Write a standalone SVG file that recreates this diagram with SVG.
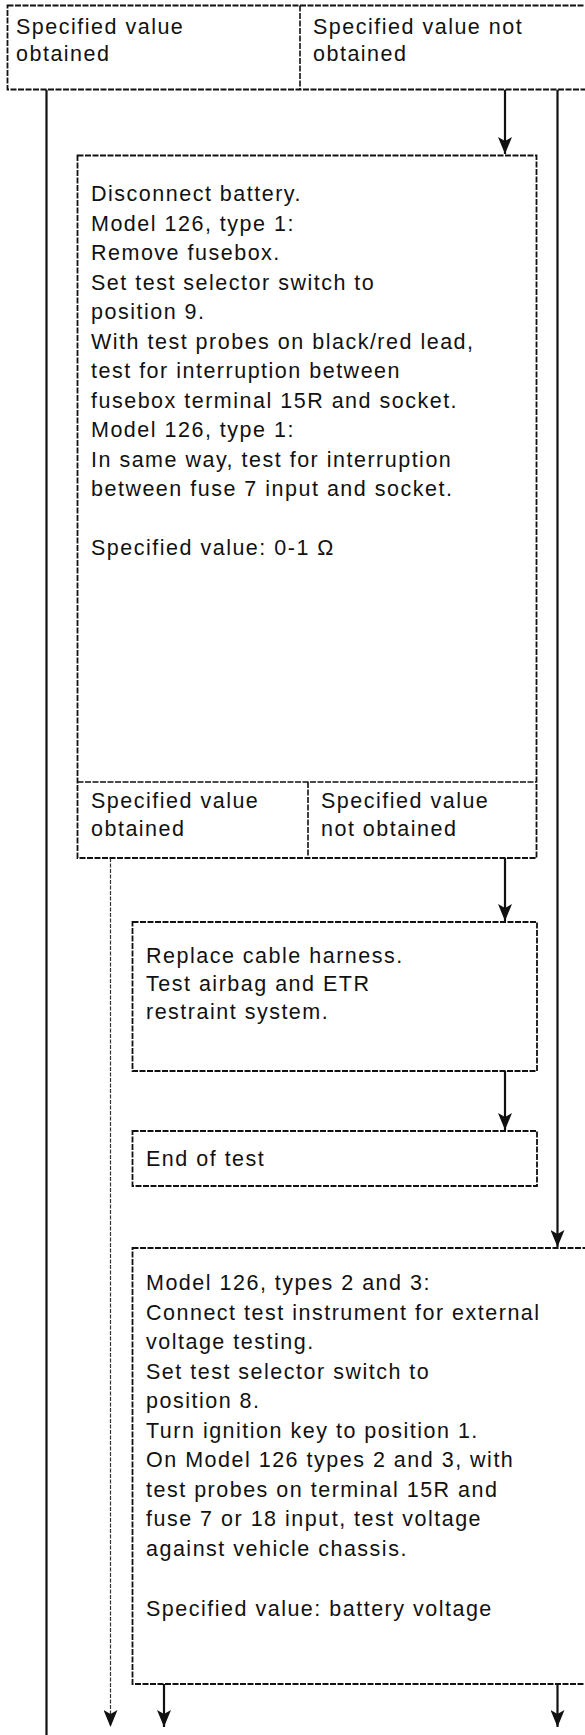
<svg xmlns="http://www.w3.org/2000/svg" width="585" height="1735" viewBox="0 0 585 1735">
<style>
  .bg { fill: #ffffff; }
  .box { fill: #ffffff; stroke: #111111; stroke-width: 1.8; stroke-dasharray: 6 1.5; }
  .div { fill: none; stroke: #111111; stroke-width: 1.6; stroke-dasharray: 6 1.5; }
  .t { font-family: "Liberation Sans", Arial, sans-serif; font-size: 21.5px; letter-spacing: 1.5px; fill: #111111; }
  .wire { fill: none; stroke: #111111; stroke-width: 2.2; }
  .wire-thin { fill: none; stroke: #333333; stroke-width: 1.2; stroke-dasharray: 4 1.5; }
</style>
<defs>
  <marker id="ah" markerUnits="userSpaceOnUse" markerWidth="18" markerHeight="14" refX="17" refY="7" orient="auto">
    <path d="M0,0 L17,7 L0,14 L4,7 z" fill="#111111"/>
  </marker>
</defs>
<rect class="bg" x="0" y="0" width="585" height="1735"/>

<g id="connectors">
  <line class="wire" x1="46.5" y1="89.5" x2="46.5" y2="1735"/>
  <line class="wire" x1="505" y1="89.5" x2="505" y2="154" marker-end="url(#ah)"/>
  <line class="wire" x1="557.5" y1="89.5" x2="557.5" y2="1247" marker-end="url(#ah)"/>
  <line class="wire-thin" x1="110.5" y1="858" x2="110.5" y2="1727" marker-end="url(#ah)"/>
  <line class="wire" x1="505" y1="858" x2="505" y2="921" marker-end="url(#ah)"/>
  <line class="wire" x1="505" y1="1071" x2="505" y2="1130" marker-end="url(#ah)"/>
  <line class="wire" x1="164" y1="1684" x2="164" y2="1727" marker-end="url(#ah)"/>
  <line class="wire" x1="557.5" y1="1684" x2="557.5" y2="1727" marker-end="url(#ah)"/>
</g>

<g id="decision-top">
  <rect class="box" x="7.5" y="5.5" width="600" height="84"/>
  <line class="div" x1="300" y1="5.5" x2="300" y2="89.5"/>
  <text class="t" x="16" y="34">Specified value</text>
  <text class="t" x="16" y="61">obtained</text>
  <text class="t" x="313" y="34">Specified value not</text>
  <text class="t" x="313" y="61">obtained</text>
</g>

<g id="step-disconnect">
  <rect class="box" x="77.5" y="155.5" width="459" height="702.5"/>
  <text class="t" x="91" y="201">Disconnect battery.</text>
  <text class="t" x="91" y="230.5">Model 126, type 1:</text>
  <text class="t" x="91" y="260">Remove fusebox.</text>
  <text class="t" x="91" y="289.5">Set test selector switch to</text>
  <text class="t" x="91" y="319">position 9.</text>
  <text class="t" x="91" y="348.5">With test probes on black/red lead,</text>
  <text class="t" x="91" y="378">test for interruption between</text>
  <text class="t" x="91" y="407.5">fusebox terminal 15R and socket.</text>
  <text class="t" x="91" y="437">Model 126, type 1:</text>
  <text class="t" x="91" y="466.5">In same way, test for interruption</text>
  <text class="t" x="91" y="496">between fuse 7 input and socket.</text>
  <text class="t" x="91" y="555">Specified value: 0-1 Ω</text>
</g>

<g id="decision-2">
  <line class="div" x1="77.5" y1="782" x2="536.5" y2="782"/>
  <line class="div" x1="308" y1="782" x2="308" y2="858"/>
  <text class="t" x="91" y="808">Specified value</text>
  <text class="t" x="91" y="836">obtained</text>
  <text class="t" x="321" y="808">Specified value</text>
  <text class="t" x="321" y="836">not obtained</text>
</g>

<g id="step-replace">
  <rect class="box" x="132.5" y="922" width="404.5" height="149"/>
  <text class="t" x="146" y="963">Replace cable harness.</text>
  <text class="t" x="146" y="991">Test airbag and ETR</text>
  <text class="t" x="146" y="1019">restraint system.</text>
</g>

<g id="step-end">
  <rect class="box" x="132.5" y="1131" width="404.5" height="55"/>
  <text class="t" x="146" y="1166">End of test</text>
</g>

<g id="step-voltage">
  <rect class="box" x="132.5" y="1248" width="480" height="436"/>
  <text class="t" x="146" y="1290">Model 126, types 2 and 3:</text>
  <text class="t" x="146" y="1319.5">Connect test instrument for external</text>
  <text class="t" x="146" y="1349">voltage testing.</text>
  <text class="t" x="146" y="1378.5">Set test selector switch to</text>
  <text class="t" x="146" y="1408">position 8.</text>
  <text class="t" x="146" y="1437.5">Turn ignition key to position 1.</text>
  <text class="t" x="146" y="1467">On Model 126 types 2 and 3, with</text>
  <text class="t" x="146" y="1496.5">test probes on terminal 15R and</text>
  <text class="t" x="146" y="1526">fuse 7 or 18 input, test voltage</text>
  <text class="t" x="146" y="1555.5">against vehicle chassis.</text>
  <text class="t" x="146" y="1616">Specified value: battery voltage</text>
</g>
</svg>
